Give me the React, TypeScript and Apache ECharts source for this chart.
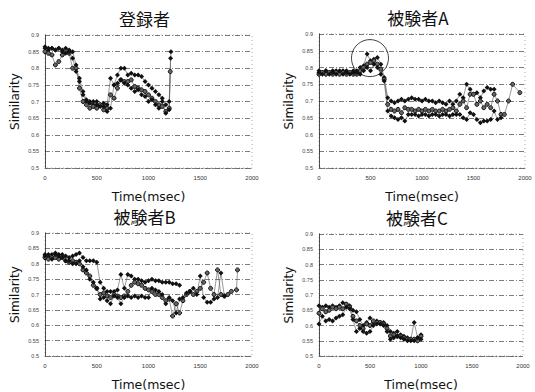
import React, { useEffect, useRef } from "react";
import * as echarts from "echarts";

const titles = ["登録者", "被験者A", "被験者B", "被験者C"];
const yTicks = ["0.5", "0.55", "0.6", "0.65", "0.7", "0.75", "0.8", "0.85", "0.9"];
const xTicks = ["0", "500", "1000", "1500", "2000"];

// 登録者
const p1a = [[0,0.86],[33,0.855],[67,0.86],[100,0.855],[133,0.86],[167,0.855],[200,0.86],[233,0.855],[267,0.85],[300,0.81],[333,0.76],[367,0.72],[400,0.70],[433,0.695],[467,0.69],[500,0.70],[533,0.69],[567,0.695],[600,0.69],[633,0.77],[667,0.75],[700,0.78],[733,0.80],[767,0.80],[800,0.78],[833,0.785],[867,0.78],[900,0.78],[933,0.775],[967,0.76],[1000,0.75],[1033,0.74],[1067,0.73],[1100,0.72],[1133,0.71],[1167,0.69],[1200,0.70],[1217,0.85]];
const p1b = [[0,0.85],[33,0.845],[67,0.84],[100,0.81],[133,0.82],[167,0.84],[200,0.85],[233,0.845],[267,0.80],[300,0.80],[333,0.74],[367,0.70],[400,0.69],[433,0.68],[467,0.685],[500,0.68],[533,0.69],[567,0.675],[600,0.68],[633,0.72],[667,0.71],[700,0.74],[733,0.765],[767,0.76],[800,0.76],[833,0.765],[867,0.745],[900,0.74],[933,0.735],[967,0.73],[1000,0.72],[1033,0.71],[1067,0.70],[1100,0.69],[1133,0.685],[1167,0.67],[1200,0.68],[1210,0.79]];
const p1c = [[0,0.865],[33,0.86],[67,0.86],[100,0.855],[133,0.86],[167,0.85],[200,0.845],[233,0.85],[267,0.83],[300,0.79],[333,0.77],[367,0.73],[400,0.705],[433,0.70],[467,0.70],[500,0.69],[533,0.685],[567,0.685],[600,0.67],[633,0.68],[667,0.75],[700,0.755],[733,0.765],[767,0.755],[800,0.75],[833,0.74],[867,0.73],[900,0.735],[933,0.72],[967,0.715],[1000,0.70],[1033,0.705],[1067,0.69],[1100,0.68],[1133,0.70],[1167,0.665],[1200,0.675],[1213,0.83]];

// 被験者A
const p2a = [[0,0.79],[33,0.785],[67,0.79],[100,0.785],[133,0.79],[167,0.79],[200,0.785],[233,0.79],[267,0.79],[300,0.785],[333,0.79],[367,0.79],[400,0.80],[433,0.805],[467,0.84],[500,0.82],[533,0.825],[567,0.83],[600,0.81],[633,0.77],[667,0.71],[700,0.70],[733,0.695],[767,0.70],[800,0.705],[833,0.70],[867,0.705],[900,0.71],[933,0.705],[967,0.705],[1000,0.70],[1033,0.705],[1067,0.70],[1100,0.70],[1133,0.695],[1167,0.70],[1200,0.695],[1233,0.69],[1267,0.70],[1300,0.69],[1333,0.70],[1367,0.72],[1400,0.71],[1433,0.75],[1467,0.735],[1500,0.72],[1533,0.725],[1567,0.71],[1600,0.73],[1633,0.74],[1667,0.735],[1700,0.735]];
const p2b = [[0,0.78],[33,0.785],[67,0.78],[100,0.785],[133,0.78],[167,0.785],[200,0.78],[233,0.785],[267,0.78],[300,0.785],[333,0.78],[367,0.78],[400,0.79],[433,0.80],[467,0.81],[500,0.815],[533,0.82],[567,0.81],[600,0.795],[633,0.765],[667,0.69],[700,0.675],[733,0.67],[767,0.675],[800,0.665],[833,0.68],[867,0.675],[900,0.675],[933,0.67],[967,0.675],[1000,0.67],[1033,0.675],[1067,0.67],[1100,0.675],[1133,0.67],[1167,0.67],[1200,0.675],[1233,0.67],[1267,0.675],[1300,0.68],[1333,0.67],[1367,0.69],[1400,0.70],[1433,0.68],[1467,0.72],[1500,0.72],[1533,0.69],[1567,0.70],[1600,0.68],[1633,0.69],[1667,0.68],[1700,0.72],[1733,0.70],[1767,0.66],[1800,0.66],[1840,0.70],[1880,0.75],[1950,0.725]];
const p2c = [[0,0.785],[33,0.78],[67,0.79],[100,0.78],[133,0.785],[167,0.78],[200,0.79],[233,0.78],[267,0.785],[300,0.78],[333,0.785],[367,0.785],[400,0.78],[433,0.79],[467,0.80],[500,0.79],[533,0.81],[567,0.80],[600,0.78],[633,0.76],[667,0.67],[700,0.655],[733,0.65],[767,0.645],[800,0.65],[833,0.64],[867,0.66],[900,0.66],[933,0.66],[967,0.655],[1000,0.66],[1033,0.66],[1067,0.655],[1100,0.66],[1133,0.66],[1167,0.655],[1200,0.66],[1233,0.66],[1267,0.655],[1300,0.66],[1333,0.66],[1367,0.66],[1400,0.65],[1433,0.645],[1467,0.665],[1500,0.66],[1533,0.645],[1567,0.635],[1600,0.64],[1633,0.64],[1667,0.645],[1700,0.67],[1733,0.645],[1767,0.65]];
const circleA = [[495, 0.828]];

// 被験者B
const p3a = [[0,0.83],[33,0.82],[67,0.83],[100,0.835],[133,0.83],[167,0.83],[200,0.825],[233,0.82],[267,0.825],[300,0.83],[333,0.835],[367,0.82],[400,0.81],[433,0.81],[467,0.81],[500,0.805],[533,0.74],[567,0.72],[600,0.71],[633,0.71],[667,0.71],[700,0.715],[733,0.765],[767,0.72],[800,0.765],[833,0.76],[867,0.75],[900,0.75],[933,0.745],[967,0.74],[1000,0.745],[1033,0.75],[1067,0.745],[1100,0.745],[1133,0.74],[1167,0.74],[1200,0.74],[1233,0.735],[1267,0.735],[1300,0.73]];
const p3b = [[0,0.82],[33,0.815],[67,0.82],[100,0.82],[133,0.815],[167,0.82],[200,0.81],[233,0.805],[267,0.81],[300,0.805],[333,0.80],[367,0.78],[400,0.77],[433,0.76],[467,0.73],[500,0.72],[533,0.70],[567,0.705],[600,0.695],[633,0.69],[667,0.70],[700,0.695],[733,0.69],[767,0.695],[800,0.71],[833,0.73],[867,0.74],[900,0.735],[933,0.73],[967,0.72],[1000,0.715],[1033,0.71],[1067,0.70],[1100,0.70],[1133,0.69],[1167,0.68],[1200,0.685],[1233,0.63],[1267,0.67],[1300,0.64],[1333,0.68],[1367,0.70],[1400,0.71],[1433,0.70],[1467,0.71],[1500,0.72],[1533,0.74],[1567,0.77],[1600,0.72],[1633,0.70],[1667,0.78],[1700,0.70],[1733,0.695],[1767,0.70],[1800,0.71],[1850,0.715],[1860,0.78]];
const p3c = [[0,0.825],[33,0.83],[67,0.815],[100,0.83],[133,0.825],[167,0.82],[200,0.81],[233,0.81],[267,0.80],[300,0.80],[333,0.81],[367,0.79],[400,0.78],[433,0.75],[467,0.74],[500,0.72],[533,0.685],[567,0.69],[600,0.68],[633,0.67],[667,0.695],[700,0.69],[733,0.67],[767,0.69],[800,0.695],[833,0.69],[867,0.695],[900,0.69],[933,0.695],[967,0.69],[1000,0.69],[1033,0.72],[1067,0.715],[1100,0.71],[1133,0.70],[1167,0.67],[1200,0.69],[1233,0.68],[1267,0.64],[1300,0.685],[1333,0.69],[1367,0.705],[1400,0.71],[1433,0.72],[1467,0.70],[1500,0.76],[1533,0.69],[1567,0.675],[1600,0.675],[1633,0.685],[1667,0.69],[1700,0.77],[1733,0.695]];

// 被験者C
const p4a = [[0,0.665],[33,0.66],[67,0.665],[100,0.66],[133,0.665],[167,0.66],[200,0.665],[233,0.675],[267,0.67],[300,0.665],[333,0.65],[367,0.645],[400,0.62],[433,0.60],[467,0.61],[500,0.625],[533,0.61],[567,0.615],[600,0.61],[633,0.61],[667,0.60],[700,0.58],[733,0.575],[767,0.58],[800,0.57],[833,0.565],[867,0.56],[900,0.555],[933,0.61],[967,0.56],[1000,0.57]];
const p4b = [[0,0.64],[33,0.655],[67,0.645],[100,0.65],[133,0.66],[167,0.655],[200,0.66],[233,0.655],[267,0.67],[300,0.66],[333,0.63],[367,0.615],[400,0.60],[433,0.59],[467,0.605],[500,0.60],[533,0.615],[567,0.61],[600,0.61],[633,0.605],[667,0.59],[700,0.565],[733,0.57],[767,0.565],[800,0.565],[833,0.56],[867,0.555],[900,0.555],[933,0.555],[967,0.55],[1000,0.565]];
const p4c = [[0,0.605],[33,0.63],[67,0.615],[100,0.62],[133,0.615],[167,0.625],[200,0.63],[233,0.635],[267,0.66],[300,0.655],[333,0.62],[367,0.58],[400,0.59],[433,0.58],[467,0.575],[500,0.58],[533,0.60],[567,0.605],[600,0.605],[633,0.60],[667,0.58],[700,0.555],[733,0.56],[767,0.565],[800,0.56],[833,0.555],[867,0.55],[900,0.55],[933,0.55],[967,0.56],[1000,0.555]];

const panelData = [
  [p1a, p1b, p1c],
  [p2a, p2b, p2c],
  [p3a, p3b, p3c],
  [p4a, p4b, p4c],
];

const grids = [
  { left: 45, top: 35, width: 207, height: 133 },
  { left: 319, top: 34, width: 206, height: 134 },
  { left: 45, top: 233, width: 207, height: 132 },
  { left: 319, top: 234, width: 204, height: 131 },
];

const symbols = ["diamond", "circle", "diamond"];

export default function App() {
  const ref = useRef<HTMLDivElement>(null);
  useEffect(() => {
    if (!ref.current) return;
    const chart = echarts.init(ref.current, null, { renderer: "svg" });
    const titleArr = titles.map((t, i) => ({
      text: t,
      left: grids[i].left + grids[i].width / 2 - 4,
      top: grids[i].top - 25,
      padding: 0,
      textAlign: "center",
      textStyle: { fontFamily: "Noto Sans CJK JP", fontSize: 17, lineHeight: 17, fontWeight: "normal", color: "#111" },
    }));
    const gridArr = grids.map((g) => ({
      ...g,
      show: true,
      borderColor: "#888",
      borderWidth: 0.7,
      borderType: [1, 3],
    }));
    const xAxes = grids.map((_, i) => ({
      type: "value",
      gridIndex: i,
      min: 0,
      max: 2000,
      interval: 500,
      name: "Time(msec)",
      nameLocation: "middle",
      nameGap: 22,
      nameTextStyle: { fontFamily: "DejaVu Sans", fontSize: 12.5, lineHeight: 13, color: "#111" },
      axisLine: { show: true, lineStyle: { color: "#666", width: 0.8, type: [2, 2] } },
      axisTick: { show: false },
      axisLabel: {
        fontSize: 6,
        color: "#333",
        margin: 7,
        formatter: (v: number) => xTicks[Math.round(v / 500)] ?? String(v),
      },
      splitLine: { show: false },
    }));
    const yAxes = grids.map((_, i) => ({
      type: "value",
      gridIndex: i,
      min: 0.5,
      max: 0.9,
      interval: 0.05,
      name: "Similarity",
      nameLocation: "middle",
      nameGap: 24,
      nameTextStyle: { fontFamily: "DejaVu Sans", fontSize: 12, color: "#111" },
      axisLine: { show: true, lineStyle: { color: "#222", width: 0.8 } },
      axisTick: { show: false },
      axisLabel: {
        fontSize: 5.5,
        color: "#444",
        margin: 6,
        formatter: (v: number) => yTicks[Math.round((v - 0.5) / 0.05)] ?? String(v),
      },
      splitLine: { show: true, lineStyle: { color: "#444", width: 0.7, type: [5, 2, 1, 2] } },
    }));
    const series: any[] = [];
    panelData.forEach((arr, i) => {
      arr.forEach((d, j) => {
        series.push({
          type: "line",
          xAxisIndex: i,
          yAxisIndex: i,
          data: d,
          symbol: symbols[j],
          symbolSize: j === 1 ? 4 : 5,
          showSymbol: true,
          lineStyle: { color: "#555", width: 0.6 },
          itemStyle: { color: j === 1 ? "#666" : "#111", borderColor: "#111", borderWidth: j === 1 ? 1 : 0 },
        });
      });
    });
    series.push({
      type: "scatter",
      xAxisIndex: 1,
      yAxisIndex: 1,
      data: circleA,
      symbol: "circle",
      symbolSize: 37,
      itemStyle: { color: "transparent", borderColor: "#111", borderWidth: 1 },
      z: 10,
    });
    chart.setOption({
      animation: false,
      backgroundColor: "#fff",
      title: titleArr,
      grid: gridArr,
      xAxis: xAxes,
      yAxis: yAxes,
      series,
    });
    return () => chart.dispose();
  }, []);
  return (
    <div
      ref={ref}
      style={{ position: "fixed", left: 0, top: 0, width: 535, height: 392 }}
    />
  );
}
